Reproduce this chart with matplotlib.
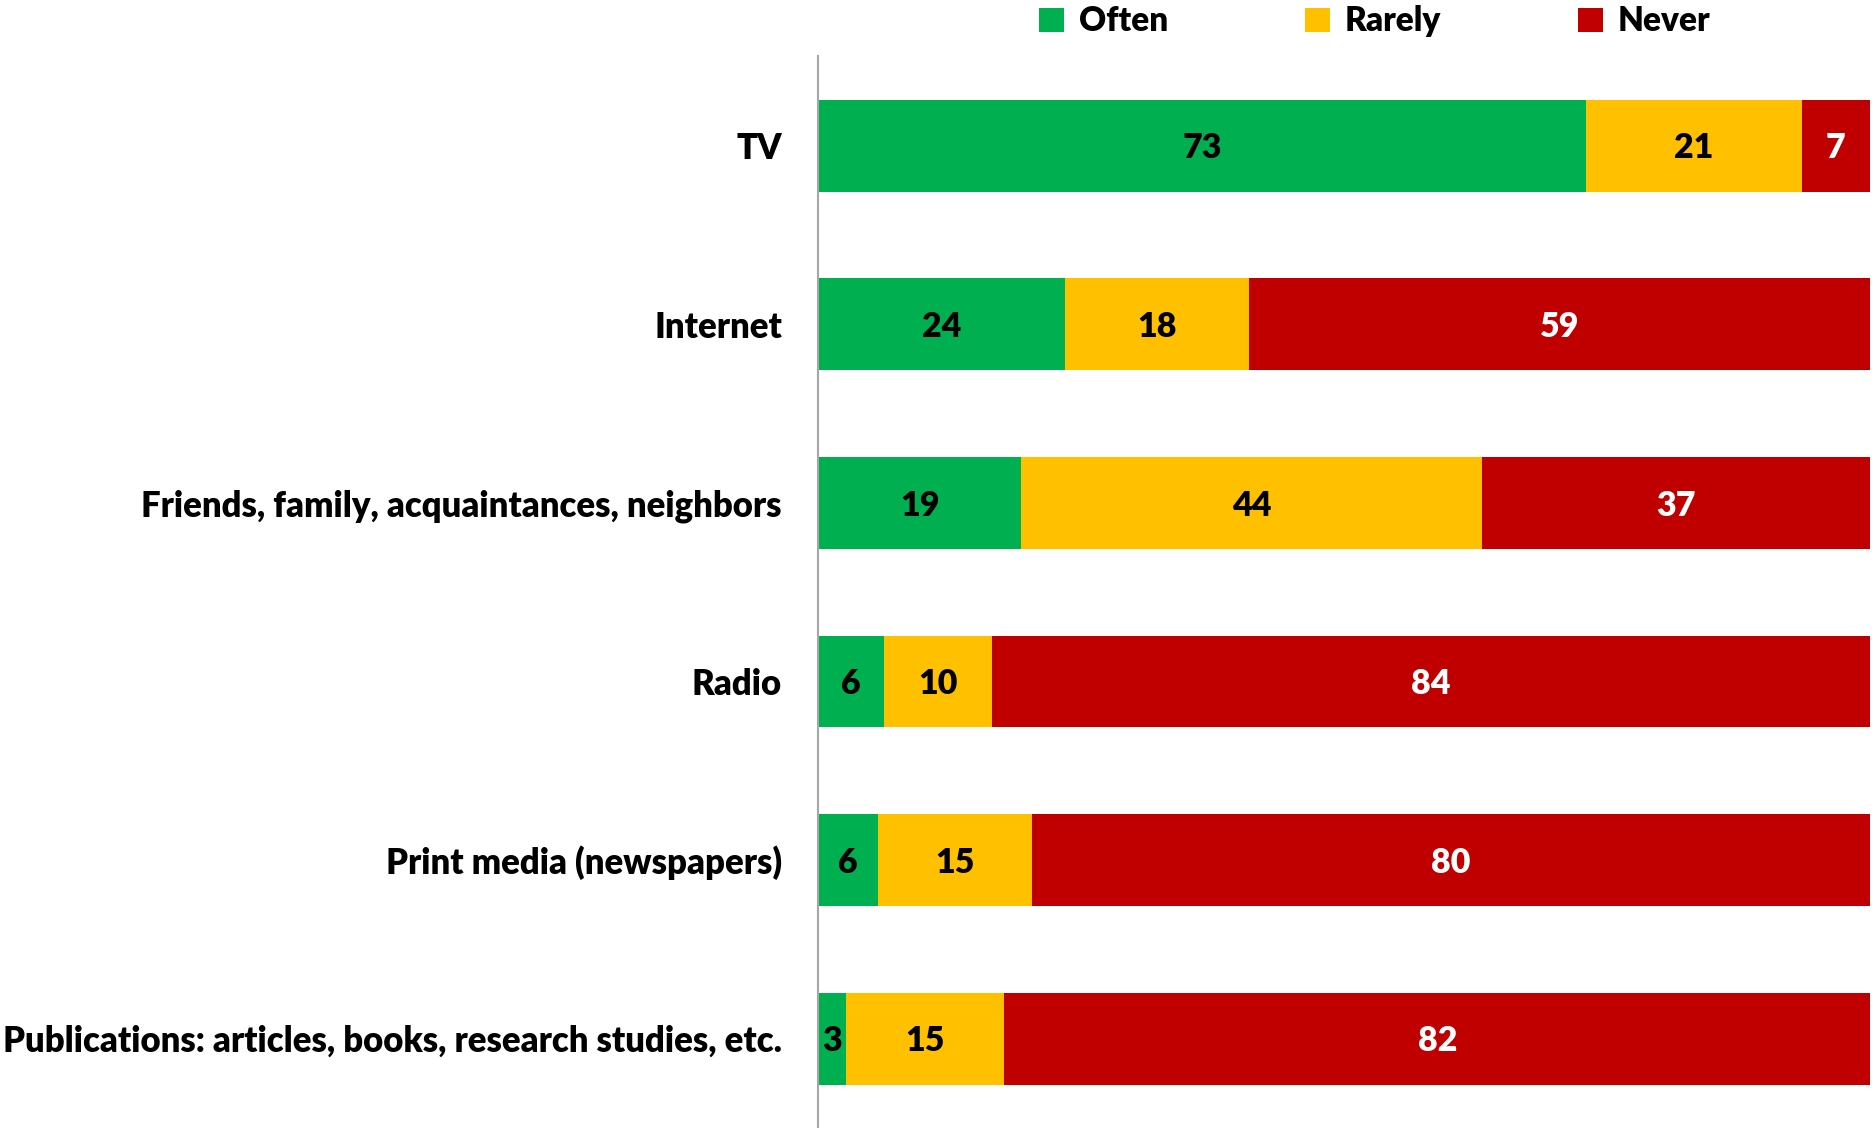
"""
Stacked horizontal bars: how often people get information from each source.
"""
import matplotlib
matplotlib.use("Agg")
import matplotlib.pyplot as plt
from matplotlib.patches import Patch

sources = [
    "TV",
    "Internet",
    "Friends, family, acquaintances, neighbors",
    "Radio",
    "Print media (newspapers)",
    "Publications: articles, books, research studies, etc.",
]
# bar shares (%) as measured from the bars
often = [73.0, 23.5, 19.3, 6.3, 5.7, 2.7]
rarely = [20.5, 17.5, 43.8, 10.2, 14.6, 15.0]
never = [6.5, 59.0, 36.9, 83.6, 79.7, 82.3]
# values printed on the bars
often_labels = [73, 24, 19, 6, 6, 3]
rarely_labels = [21, 18, 44, 10, 15, 15]
never_labels = [7, 59, 37, 84, 80, 82]

series_names = ["Often", "Rarely", "Never"]
colors = ["#00B050", "#FFC000", "#C00000"]
text_colors = ["black", "black", "white"]


def plot_sources():
    """Draw the chart and save it as out.png."""
    plt.rcParams["font.family"] = ["Lato", "DejaVu Sans"]
    fig = plt.figure(figsize=(18.72, 11.28), dpi=100)
    ax = fig.add_axes([0.437, 0.0, 0.562, 0.950])

    y = list(range(len(sources)))
    left = [0.0] * len(sources)
    all_values = [often, rarely, never]
    all_labels = [often_labels, rarely_labels, never_labels]
    for values, labels, color, tcolor in zip(all_values, all_labels, colors, text_colors):
        bars = ax.barh(y, values, left=left, height=0.515, color=color)
        texts = ax.bar_label(bars, labels=[str(v) for v in labels], label_type="center",
                             color=tcolor, fontsize=24.5, fontweight="heavy")
        for t in texts:
            t.set_y(t.get_position()[1] - 2)
        left = [a + b for a, b in zip(left, values)]

    ax.set_xlim(0, 100)
    ax.set_ylim(5.5, -0.5)
    ax.set_yticks(y)
    ax.set_yticklabels(sources, fontsize=24.9, fontweight="heavy")
    ax.tick_params(axis="y", length=0, pad=26)
    ax.set_xticks([])
    for side in ["top", "right", "bottom"]:
        ax.spines[side].set_visible(False)
    ax.spines["left"].set_color("#A6A6A6")
    ax.spines["left"].set_linewidth(1.5)

    handles = [Patch(facecolor=c, edgecolor="none") for c in colors]
    fig.legend(handles, series_names, loc="center left", bbox_to_anchor=(0.539, 0.981),
               ncol=3, frameon=False, handlelength=0.75, handleheight=0.75,
               handletextpad=0.45, columnspacing=4.1,
               prop={"size": 24, "weight": "heavy"})

    fig.savefig("out.png", dpi=100)


if __name__ == "__main__":
    plot_sources()
